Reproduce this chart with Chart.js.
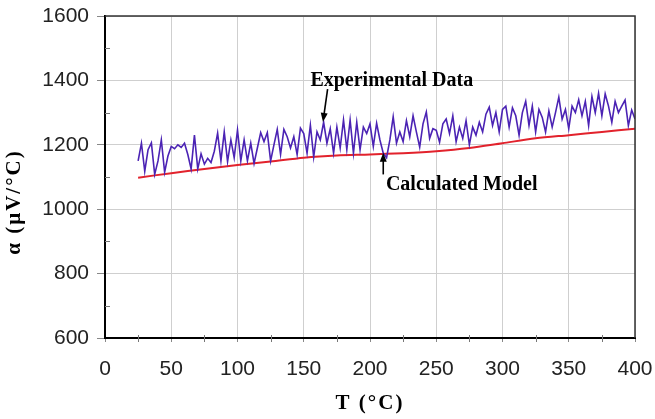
<!DOCTYPE html>
<html>
<head>
<meta charset="utf-8">
<script src="https://cdn.jsdelivr.net/npm/chart.js@4.4.0/dist/chart.umd.min.js"></script>
<style>
  html, body { margin: 0; padding: 0; background: #fff; }
  #wrap { width: 655px; height: 419px; }
</style>
</head>
<body>
<div id="wrap"><canvas id="seebeckChart" width="655" height="419"></canvas></div>
<script>
// Experimental data, sampled every 2.5 C from 25 C
var expStart = 25;
var expStep = 2.5;
var expValues = [
  1150, 1205, 1118, 1185, 1206, 1108, 1150, 1215, 1115, 1165,
  1195, 1188, 1200, 1192, 1205, 1170, 1125, 1230, 1125, 1172,
  1140, 1158, 1145, 1180, 1236, 1150, 1240, 1148, 1215, 1160,
  1246, 1150, 1215, 1150, 1205, 1142, 1190, 1238, 1210, 1238,
  1150, 1200, 1248, 1170, 1248, 1225, 1190, 1225, 1170, 1252,
  1235, 1174, 1261, 1162, 1240, 1215, 1270, 1205, 1250, 1174,
  1255, 1190, 1277, 1185, 1277, 1174, 1270, 1185, 1255, 1235,
  1265, 1195, 1267, 1215, 1174, 1160, 1215, 1287, 1205, 1240,
  1210, 1275, 1225, 1290, 1240, 1193, 1265, 1302, 1220, 1250,
  1245, 1208, 1265, 1280, 1235, 1290, 1210, 1255, 1220, 1275,
  1200, 1255, 1230, 1270, 1240, 1295, 1317, 1260, 1300, 1240,
  1310, 1320, 1255, 1315, 1290, 1230, 1300, 1335, 1260, 1320,
  1240, 1310, 1285, 1240, 1305, 1255, 1300, 1348, 1280, 1310,
  1250, 1320, 1300, 1340, 1290, 1335, 1260, 1350, 1300, 1360,
  1290, 1358, 1320, 1270, 1335, 1300, 1320, 1339, 1260, 1308,
  1280
];

// Calculated model
var modelTemps = [25, 50, 75, 100, 125, 150, 175, 200, 225, 250, 275, 300, 325, 350, 375, 400];
var modelValues = [1098, 1112, 1125, 1137, 1148, 1160, 1167, 1170, 1174, 1180, 1190, 1205, 1220, 1230, 1240, 1250];

// axis ticks
var xTicks = [0, 50, 100, 150, 200, 250, 300, 350, 400];
var yTicks = [600, 800, 1000, 1200, 1400, 1600];
var xMinorTicks = [25, 75, 125, 175, 225, 275, 325, 375];
var yMinorTicks = [700, 900, 1100, 1300, 1500];

// labels with arrows (in data coordinates)
var notes = [
  { text: 'Experimental Data', x: 155, y: 1382, from: [168, 1373], to: [164.5, 1271] },
  { text: 'Calculated Model', x: 212, y: 1060, from: [210, 1108], to: [210, 1175] }
];

var expPoints = expValues.map(function(v, i) {
  return { x: expStart + i * expStep, y: v };
});
var modelPoints = modelTemps.map(function(t, i) {
  return { x: t, y: modelValues[i] };
});

function drawArrow(ctx, x1, y1, x2, y2) {
  var ang = Math.atan2(y2 - y1, x2 - x1);
  var len = 9, half = 3.5;
  ctx.beginPath();
  ctx.moveTo(x1, y1);
  ctx.lineTo(x2 - Math.cos(ang) * len * 0.8, y2 - Math.sin(ang) * len * 0.8);
  ctx.stroke();
  ctx.beginPath();
  ctx.moveTo(x2, y2);
  ctx.lineTo(x2 - Math.cos(ang) * len + Math.sin(ang) * half, y2 - Math.sin(ang) * len - Math.cos(ang) * half);
  ctx.lineTo(x2 - Math.cos(ang) * len - Math.sin(ang) * half, y2 - Math.sin(ang) * len + Math.cos(ang) * half);
  ctx.closePath();
  ctx.fill();
}

var extras = {
  id: 'extras',
  afterDraw: function(chart) {
    var ctx = chart.ctx;
    var a = chart.chartArea;
    var xs = chart.scales.x, ys = chart.scales.y;
    ctx.save();

    // frame top/right
    ctx.strokeStyle = '#333';
    ctx.lineWidth = 1.5;
    ctx.beginPath();
    ctx.moveTo(a.left, a.top);
    ctx.lineTo(a.right, a.top);
    ctx.lineTo(a.right, a.bottom);
    ctx.stroke();

    // minor ticks
    ctx.strokeStyle = '#777';
    ctx.lineWidth = 1;
    xMinorTicks.forEach(function(t) {
      var px = Math.round(xs.getPixelForValue(t)) + 0.5;
      ctx.beginPath();
      ctx.moveTo(px, a.bottom - 3);
      ctx.lineTo(px, a.bottom + 4);
      ctx.stroke();
    });
    yMinorTicks.forEach(function(v) {
      var py = Math.round(ys.getPixelForValue(v)) + 0.5;
      ctx.beginPath();
      ctx.moveTo(a.left, py);
      ctx.lineTo(a.left + 5, py);
      ctx.stroke();
    });

    // notes
    ctx.fillStyle = '#000';
    ctx.strokeStyle = '#000';
    ctx.lineWidth = 1.6;
    ctx.font = 'bold 20px "Liberation Serif", "Times New Roman", serif';
    ctx.textAlign = 'left';
    ctx.textBaseline = 'alphabetic';
    notes.forEach(function(n) {
      ctx.fillText(n.text, xs.getPixelForValue(n.x), ys.getPixelForValue(n.y));
      drawArrow(ctx,
        xs.getPixelForValue(n.from[0]), ys.getPixelForValue(n.from[1]),
        xs.getPixelForValue(n.to[0]), ys.getPixelForValue(n.to[1]));
    });

    // axis titles
    ctx.font = 'bold 21px "Liberation Serif", "Times New Roman", serif';
    ctx.textAlign = 'center';
    ctx.textBaseline = 'middle';
    ctx.letterSpacing = '2px';
    ctx.fillText('T (\u00b0C)', (a.left + a.right) / 2, 404);
    ctx.translate(15, 202);
    ctx.rotate(-Math.PI / 2);
    ctx.fillText('\u03b1 (\u03bcV/\u00b0C)', 0, 0);
    ctx.restore();
  }
};

document.addEventListener("DOMContentLoaded", function() {
  var ctx = document.getElementById('seebeckChart').getContext('2d');
  var tickFont = { family: '"Liberation Sans", Arial, sans-serif', size: 21 };
  var plain = function(v) { return String(v); };
  var myChart = new Chart(ctx, {
    type: 'line',
    data: {
      datasets: [{
        label: 'Experimental Data',
        data: expPoints,
        borderColor: '#4b23b4',
        borderWidth: 1.6,
        pointRadius: 0,
        tension: 0,
        fill: false
      }, {
        label: 'Calculated Model',
        data: modelPoints,
        borderColor: '#e2222c',
        borderWidth: 2,
        pointRadius: 0,
        tension: 0.3,
        fill: false
      }]
    },
    plugins: [extras],
    options: {
      responsive: false,
      animation: false,
      events: [],
      layout: { padding: { top: 16, right: 20, left: 0, bottom: 0 } },
      plugins: {
        legend: { display: false },
        tooltip: { enabled: false }
      },
      scales: {
        x: {
          type: 'linear',
          min: 0,
          max: 400,
          afterBuildTicks: function(scale) {
            scale.ticks = xTicks.map(function(v) { return { value: v }; });
          },
          afterFit: function(scale) {
            scale.height = 81;
            scale.paddingLeft = 0;
            scale.paddingRight = 0;
          },
          grid: { color: '#cfcfcf', lineWidth: 1, tickLength: 4, tickColor: '#888' },
          border: { display: true, color: '#000', width: 2 },
          ticks: { color: '#222', font: tickFont, padding: 15, maxRotation: 0, callback: plain }
        },
        y: {
          type: 'linear',
          min: 600,
          max: 1600,
          afterBuildTicks: function(scale) {
            scale.ticks = yTicks.map(function(v) { return { value: v }; });
          },
          afterFit: function(scale) {
            scale.width = 105;
            scale.paddingTop = 0;
            scale.paddingBottom = 0;
          },
          grid: { color: '#cfcfcf', lineWidth: 1, tickLength: 8, tickColor: '#888' },
          border: { display: true, color: '#000', width: 2 },
          ticks: { color: '#222', font: tickFont, padding: 8, callback: plain }
        }
      }
    }
  });
});
</script>
</body>
</html>
